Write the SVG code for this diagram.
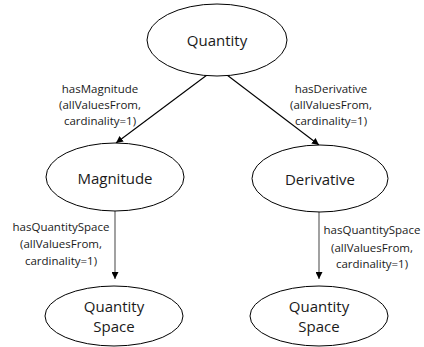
<svg xmlns="http://www.w3.org/2000/svg" width="424" height="347" viewBox="0 0 424 347">
  <style>
    .node ellipse { fill: #ffffff; stroke: #000000; stroke-width: 1; }
    .node text { font-family: "Open Sans", "Liberation Sans", sans-serif; font-size: 15px; fill: #1a1a1a; text-anchor: middle; }
    .edge line { stroke-width: 1.1; }
    .lbl { font-family: "Open Sans", "Liberation Sans", sans-serif; font-size: 11.5px; fill: #1a1a1a; text-anchor: middle; }
  </style>
  <defs>
    <marker id="arrow" viewBox="0 0 10 10" refX="10" refY="5" markerWidth="7" markerHeight="7" markerUnits="userSpaceOnUse" orient="auto">
      <path d="M0,0 L10,5 L0,10 z" fill="#000000"/>
    </marker>
  </defs>

  <g id="connectors">
    <g class="edge">
      <line x1="207" y1="75" x2="116" y2="143" stroke="#000000" marker-end="url(#arrow)"/>
      <line x1="227" y1="75" x2="319" y2="145" stroke="#000000" marker-end="url(#arrow)"/>
      <line x1="115" y1="211" x2="115" y2="279" stroke="#555555" marker-end="url(#arrow)"/>
      <line x1="319" y1="212" x2="319" y2="279" stroke="#555555" marker-end="url(#arrow)"/>
    </g>
    <text class="lbl" x="100" y="93">hasMagnitude</text>
    <text class="lbl" x="100" y="109">(allValuesFrom,</text>
    <text class="lbl" x="100" y="125">cardinality=1)</text>
    <text class="lbl" x="331" y="93">hasDerivative</text>
    <text class="lbl" x="331" y="109">(allValuesFrom,</text>
    <text class="lbl" x="331" y="125">cardinality=1)</text>
    <text class="lbl" x="61" y="231">hasQuantitySpace</text>
    <text class="lbl" x="61" y="248">(allValuesFrom,</text>
    <text class="lbl" x="61" y="265">cardinality=1)</text>
    <text class="lbl" x="372" y="234">hasQuantitySpace</text>
    <text class="lbl" x="372" y="252">(allValuesFrom,</text>
    <text class="lbl" x="372" y="268">cardinality=1)</text>
  </g>

  <g id="quantity" class="node">
    <ellipse cx="217" cy="40" rx="70" ry="36"/>
    <text x="217" y="46">Quantity</text>
  </g>
  <g id="magnitude" class="node">
    <ellipse cx="115" cy="177" rx="69" ry="34"/>
    <text x="115" y="184">Magnitude</text>
  </g>
  <g id="derivative" class="node">
    <ellipse cx="320" cy="178.5" rx="68" ry="33.5"/>
    <text x="320" y="185">Derivative</text>
  </g>
  <g id="qspace-left" class="node">
    <ellipse cx="114" cy="316" rx="69" ry="30"/>
    <text x="114" y="312">Quantity</text>
    <text x="114" y="332">Space</text>
  </g>
  <g id="qspace-right" class="node">
    <ellipse cx="319" cy="316" rx="69" ry="30"/>
    <text x="319" y="312">Quantity</text>
    <text x="319" y="332">Space</text>
  </g>
</svg>
